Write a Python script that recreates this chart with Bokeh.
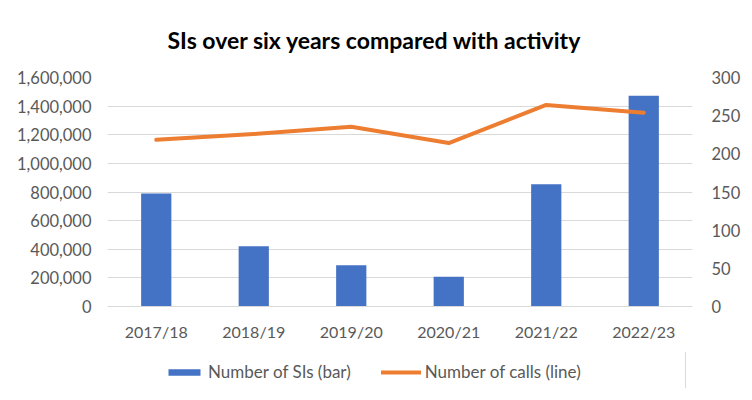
from bokeh.plotting import figure
from bokeh.layouts import column
from bokeh.models import (Range1d, LinearAxis, FactorRange, Legend, LegendItem,
                          NumeralTickFormatter, FixedTicker)
from bokeh.embed import file_html
from bokeh.resources import INLINE

years = ["2017/18", "2018/19", "2019/20", "2020/21", "2021/22", "2022/23"]
sis = [148, 79, 54, 39, 160, 276]
calls = [1165000, 1205000, 1256000, 1142000, 1408000, 1354000]
left_ticks = [0, 200000, 400000, 600000, 800000, 1000000, 1200000, 1400000, 1600000]
right_ticks = [0, 50, 100, 150, 200, 250, 300]

FONT = "Lato"
GREY = "#595959"
BAR_COLOR = "#4472C4"
LINE_COLOR = "#ED7D31"

p = figure(x_range=FactorRange(*years), y_range=Range1d(0, 1600000),
           frame_width=585, frame_height=229, output_backend="svg", toolbar_location=None,
           min_border_left=107, min_border_right=44, min_border_top=73, min_border_bottom=45)
p.extra_y_ranges = {"sis": Range1d(0, 300)}

p.title.text = "SIs over six years compared with activity"
p.title.text_font = FONT
p.title.text_font_size = "23px"
p.title.text_font_style = "bold"
p.title.text_color = "#000000"
p.title.align = "left"
p.title.offset = 60
p.title.standoff = 47

bars = p.vbar(x=years, top=sis, width=0.31, y_range_name="sis",
              fill_color=BAR_COLOR, line_color=None)
line = p.line(x=years, y=calls, line_width=4, line_color=LINE_COLOR,
              line_cap="round", line_join="round")

p.outline_line_color = None
p.background_fill_color = "white"
p.border_fill_color = "white"
p.xgrid.grid_line_color = None
p.ygrid.grid_line_color = "#D9D9D9"
p.ygrid.ticker = FixedTicker(ticks=left_ticks)

p.yaxis[0].ticker = FixedTicker(ticks=left_ticks)
p.yaxis[0].formatter = NumeralTickFormatter(format="0,0")

right = LinearAxis(y_range_name="sis", ticker=FixedTicker(ticks=right_ticks))
p.add_layout(right, "right")

for ax, st in [(p.yaxis[0], 10), (right, 13)]:
    ax.axis_line_color = None
    ax.major_tick_line_color = None
    ax.minor_tick_line_color = None
    ax.major_label_text_font = FONT
    ax.major_label_text_font_size = "16.5px"
    ax.major_label_text_color = GREY
    ax.major_label_standoff = st

xa = p.xaxis[0]
xa.axis_line_color = "#D9D9D9"
xa.major_tick_line_color = None
xa.minor_tick_line_color = None
xa.major_label_text_font = FONT
xa.major_label_text_font_size = "16px"
xa.major_label_text_color = GREY
xa.major_label_standoff = 9

# legend strip below the chart (its frame is aligned with the main frame)
lg = figure(width=736, height=37, output_backend="svg", toolbar_location=None,
            x_range=Range1d(0, 1), y_range=Range1d(0, 1),
            min_border_left=0, min_border_right=0, min_border_top=0, min_border_bottom=0)
lg.axis.visible = False
lg.grid.visible = False
lg.outline_line_color = None
lg.border_fill_color = "white"
# swatch renderers kept outside the visible range; only their legend glyphs show
lg_bar = lg.vbar(x=[5], top=[1], width=0.3, fill_color=BAR_COLOR, line_color=None)
lg_line = lg.line(x=[5, 6], y=[0.5, 0.5], line_width=4, line_color=LINE_COLOR, line_cap="round")

legend = Legend(items=[LegendItem(label="Number of SIs (bar)", renderers=[lg_bar]),
                       LegendItem(label="Number of calls (line)", renderers=[lg_line])],
                orientation="horizontal", location=(57, 6),
                border_line_color=None, background_fill_alpha=0,
                label_text_font=FONT, label_text_font_size="17px", label_text_color=GREY,
                glyph_width=40, glyph_height=8, spacing=30, label_standoff=4,
                padding=0, margin=0)
lg.add_layout(legend, "center")

layout = column(p, lg, spacing=0)

open("out.html", "w").write(file_html(layout, INLINE))
